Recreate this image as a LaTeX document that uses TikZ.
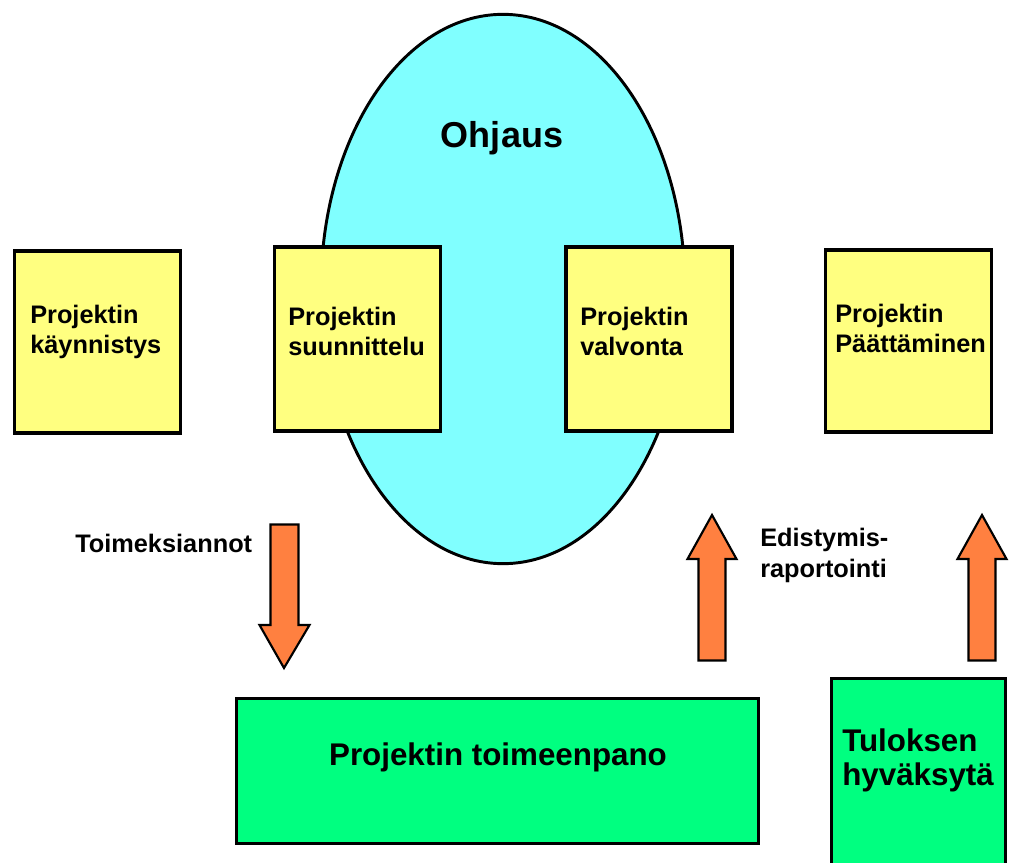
\documentclass[tikz,border=0pt]{standalone}
\usepackage{fontspec}
\setmainfont{Liberation Sans}
\usetikzlibrary{shapes.geometric}
\definecolor{cyanfill}{RGB}{128,255,255}
\definecolor{yellowfill}{RGB}{255,255,128}
\definecolor{orangefill}{RGB}{255,128,64}
\definecolor{greenfill}{RGB}{0,255,128}
\newcommand\twolines[2]{\begin{tabular}[t]{@{}l@{}}#1\\#2\end{tabular}}
\tikzset{
  phasebox/.style={draw=black, line width=2.4pt, fill=yellowfill, rectangle, inner sep=0pt,
    minimum width=124.5pt, minimum height=138pt},
  greenbox/.style={draw=black, line width=2.4pt, fill=greenfill, rectangle, inner sep=0pt},
  blockarrow/.style={draw=black, line width=1.6pt, fill=orangefill, line join=miter},
  boxtext/.style={anchor=base west, inner sep=0pt, font=\bfseries\fontsize{19}{22.5}\selectfont},
  bigtext/.style={inner sep=0pt, font=\bfseries\fontsize{23.5}{25.5}\selectfont},
}
\begin{document}
\begin{tikzpicture}[x=0.75pt, y=-0.75pt]
\useasboundingbox (0,0) rectangle (1014,863);
\clip (0,0) rectangle (1014,863);
% ellipse
\node[ellipse, draw=black, line width=2.2pt, fill=cyanfill, inner sep=0pt,
  minimum width=273pt, minimum height=412pt] (ell) at (503,289) {};
\node[anchor=base, inner sep=0pt, font=\bfseries\fontsize{27}{30}\selectfont] (ohj) at (502,148) {Ohjaus};
% yellow boxes
\node[phasebox, minimum height=136.5pt] (b1) at (97.5,342) {};
\node[phasebox] (b2) at (357.5,339) {};
\node[phasebox] (b3) at (649,339) {};
\node[phasebox, minimum height=136.5pt] (b4) at (908.5,341) {};
\node[boxtext] (t1) at (30,323) {\twolines{Projektin}{käynnistys}};
\node[boxtext] (t2) at (288,325) {\twolines{Projektin}{suunnittelu}};
\node[boxtext] (t3) at (580,325) {\twolines{Projektin}{valvonta}};
\node[boxtext] (t4) at (835,322) {\twolines{Projektin}{Päättäminen}};
% arrows
\draw[blockarrow] (270.5,524.5) -- (298.5,524.5) -- (298.5,625) -- (309.5,625) -- (284,668)
  -- (259.5,625) -- (270.5,625) -- cycle;
\draw[blockarrow] (698.5,660.5) -- (725.5,660.5) -- (725.5,559) -- (736.5,559) -- (712,515)
  -- (687.5,559) -- (698.5,559) -- cycle;
\draw[blockarrow] (968.5,660.5) -- (995.5,660.5) -- (995.5,559) -- (1006.5,559) -- (982,515)
  -- (957.5,559) -- (968.5,559) -- cycle;
\node[boxtext] (toim) at (75,552) {Toimeksiannot};
\node[boxtext, font=\bfseries\fontsize{19}{23.25}\selectfont] (edis) at (760,546) {\twolines{Edistymis-}{raportointi}};
% green boxes
\node[greenbox, minimum width=391.5pt, minimum height=108.75pt] (imp) at (497.5,771) {};
\node[bigtext, anchor=base] (impt) at (498,765) {Projektin toimeenpano};
\draw[greenbox] (831.5,900) rectangle (1005.5,678.5);
\node[bigtext, anchor=base west] (tul) at (842,751) {\twolines{Tuloksen}{hyväksytä}};
\end{tikzpicture}
\end{document}
